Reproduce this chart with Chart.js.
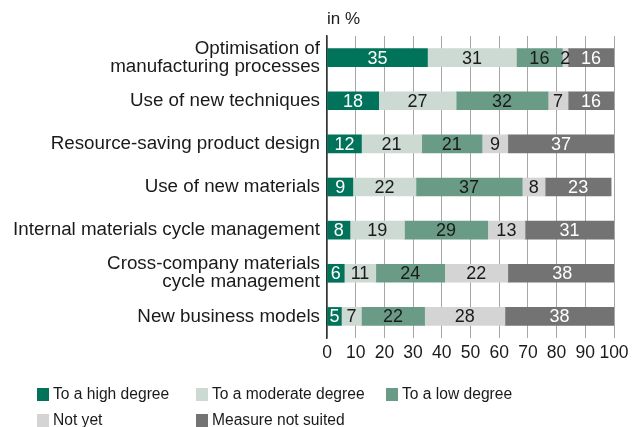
<!DOCTYPE html>
<html>
<head>
<meta charset="utf-8">
<script src="https://cdn.jsdelivr.net/npm/chart.js@4"></script>
<style>
  body { margin: 0; background: #fff; }
  #wrap { position: relative; width: 637px; height: 427px; }
  #legend {
    position: absolute; left: 37px; top: 382px;
    display: grid; grid-template-columns: 159px 190px auto; row-gap: 2px;
    font: 15.6px "Liberation Sans", Arial, sans-serif; color: #1a1a1a;
  }
  #legend .item { display: flex; align-items: center; height: 24px; white-space: nowrap; }
  #legend .box { width: 12px; height: 13px; margin-right: 4px; }
</style>
</head>
<body>
<div id="wrap">
  <canvas id="chart" width="637" height="427"></canvas>
  <div id="legend"></div>
</div>
<script>
const categories = [
  ['Optimisation of', 'manufacturing processes'],
  'Use of new techniques',
  'Resource-saving product design',
  'Use of new materials',
  'Internal materials cycle management',
  ['Cross-company materials', 'cycle management'],
  'New business models'
];
const seriesNames = ['To a high degree', 'To a moderate degree', 'To a low degree', 'Not yet', 'Measure not suited'];
const highDegree = [35, 18, 12, 9, 8, 6, 5];
const moderateDegree = [31, 27, 21, 22, 19, 11, 7];
const lowDegree = [16, 32, 21, 37, 29, 24, 22];
const notYet = [2, 7, 9, 8, 13, 22, 28];
const notSuited = [16, 16, 37, 23, 31, 38, 38];
const xTicks = [0, 10, 20, 30, 40, 50, 60, 70, 80, 90, 100];

const colors = ['#00735a', '#cdd9d3', '#699b86', '#d3d4d3', '#737373'];
const labelColors = ['#fff', '#1a1a1a', '#1a1a1a', '#1a1a1a', '#fff'];
const fontFamily = '"Liberation Sans", Arial, sans-serif';

const values = [highDegree, moderateDegree, lowDegree, notYet, notSuited];

// values drawn in the middle of each segment
const barLabels = {
  id: 'barLabels',
  afterDatasetsDraw(chart) {
    const ctx = chart.ctx;
    ctx.save();
    ctx.font = '18px ' + fontFamily;
    ctx.textAlign = 'center';
    ctx.textBaseline = 'middle';
    chart.data.datasets.forEach((ds, i) => {
      chart.getDatasetMeta(i).data.forEach((bar, j) => {
        ctx.fillStyle = labelColors[i];
        ctx.fillText(ds.data[j], (bar.x + bar.base) / 2, bar.y + 1);
      });
    });
    ctx.restore();
  }
};

const unitLabel = {
  id: 'unitLabel',
  afterDraw(chart) {
    const ctx = chart.ctx;
    ctx.save();
    ctx.font = '17px ' + fontFamily;
    ctx.fillStyle = '#1a1a1a';
    ctx.textBaseline = 'middle';
    ctx.fillText('in %', chart.chartArea.left, 19);
    ctx.restore();
  }
};

const chart = new Chart(document.getElementById('chart'), {
  type: 'bar',
  data: {
    labels: categories,
    datasets: seriesNames.map((name, i) => ({
      label: name,
      data: values[i],
      backgroundColor: colors[i],
      barThickness: 18
    }))
  },
  options: {
    indexAxis: 'y',
    responsive: false,
    animation: false,
    layout: { padding: { top: 36, right: 23, bottom: 62, left: 0 } },
    plugins: {
      legend: { display: false },
      tooltip: { enabled: false }
    },
    scales: {
      x: {
        stacked: true,
        min: 0,
        max: 100,
        afterBuildTicks(scale) {
          scale.ticks = xTicks.map(v => ({ value: v }));
        },
        afterFit(scale) { scale.height = 27; },
        grid: { color: '#a6a6a6', lineWidth: 1, drawTicks: false },
        border: { display: false },
        ticks: {
          color: '#1a1a1a', padding: 5, maxRotation: 0, minRotation: 0, autoSkip: false,
          font: { size: 17.5, family: fontFamily }
        }
      },
      y: {
        stacked: true,
        afterFit(scale) { scale.width = 327; },
        grid: { display: false, drawTicks: false },
        border: { display: true, color: '#333', width: 1.5 },
        ticks: { color: '#1a1a1a', padding: 7, font: { size: 18.8, family: fontFamily, lineHeight: 0.96 } }
      }
    }
  },
  plugins: [barLabels, unitLabel]
});

// grid-aligned legend, built from the chart's datasets
const legend = document.getElementById('legend');
chart.data.datasets.forEach(ds => {
  const item = document.createElement('div');
  item.className = 'item';
  const box = document.createElement('span');
  box.className = 'box';
  box.style.background = ds.backgroundColor;
  item.appendChild(box);
  item.appendChild(document.createTextNode(ds.label));
  legend.appendChild(item);
});
</script>
</body>
</html>
